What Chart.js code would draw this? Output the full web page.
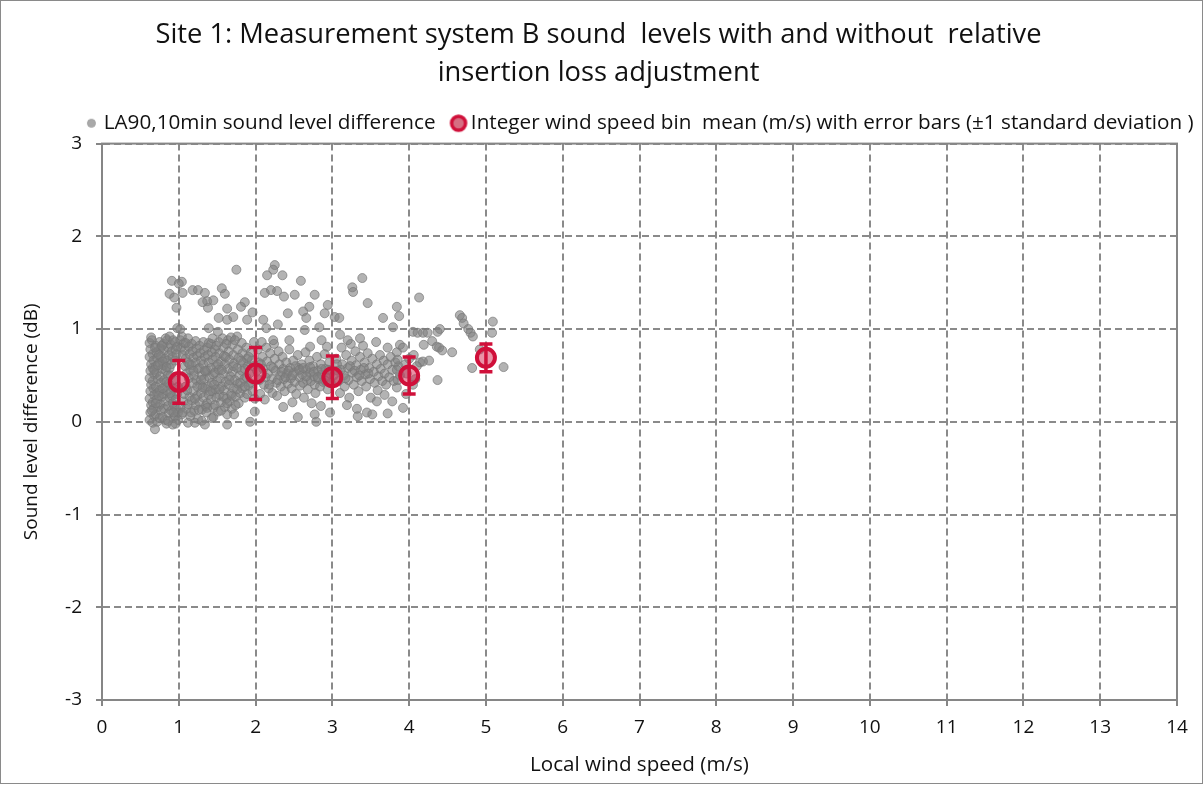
<!DOCTYPE html>
<html>
<head>
<meta charset="utf-8">
<script src="https://cdn.jsdelivr.net/npm/chart.js@4.4.1/dist/chart.umd.min.js"></script>
<style>
  html, body { margin: 0; padding: 0; background: #fff; }
  canvas { display: block; }
</style>
</head>
<body>
<canvas id="myChart" width="1204" height="785"></canvas>
<script>
// scatter points [wind speed m/s, level difference dB]
const pointsBelow1 = [
  [0.62,0.85],[0.63,0.78],[0.62,0.70],[0.64,0.62],[0.63,0.55],[0.62,0.47],[0.64,0.40],[0.63,0.33],[0.62,0.25],[0.64,0.18],
  [0.63,0.10],[0.62,0.02],[0.65,0.88],[0.66,0.73],[0.67,0.66],[0.66,0.58],[0.68,0.51],[0.66,0.44],[0.67,0.36],[0.68,0.29],
  [0.66,0.21],[0.67,0.14],[0.68,0.06],[0.66,-0.01],[0.70,0.82],[0.71,0.75],[0.72,0.69],[0.70,0.60],[0.71,0.53],[0.73,0.46],
  [0.70,0.38],[0.72,0.31],[0.71,0.24],[0.73,0.16],[0.70,0.08],[0.72,0.00],[0.69,-0.08],[0.75,0.86],[0.76,0.79],[0.77,0.71],
  [0.75,0.64],[0.78,0.57],[0.76,0.49],[0.77,0.42],[0.75,0.34],[0.78,0.27],[0.76,0.19],[0.77,0.12],[0.75,0.04],[0.80,0.84],
  [0.81,0.77],[0.82,0.68],[0.80,0.61],[0.83,0.55],[0.81,0.45],[0.82,0.37],[0.80,0.30],[0.83,0.22],[0.81,0.14],[0.82,0.02],
  [0.85,0.88],[0.86,0.80],[0.87,0.72],[0.85,0.66],[0.88,0.58],[0.86,0.50],[0.87,0.41],[0.85,0.33],[0.88,0.26],[0.86,0.17],
  [0.87,0.09],[0.84,-0.02],[0.90,0.83],[0.91,0.76],[0.92,0.70],[0.90,0.62],[0.93,0.36],[0.91,0.28],[0.92,0.20],[0.90,0.12],
  [0.93,0.04],[0.95,0.86],[0.96,0.78],[0.97,0.73],[0.95,0.66],[0.98,0.30],[0.96,0.24],[0.97,0.14],[0.95,0.06],[0.99,0.02],
  [0.88,1.38],[0.91,1.52],[0.94,1.34],[0.98,1.01],[0.97,1.23],[0.96,-0.02],[0.92,-0.03],
  [0.64,0.91],[0.69,0.80],[0.74,0.72],[0.79,0.65],[0.84,0.59],[0.89,0.50],[0.94,0.45],[0.99,0.38],[0.65,0.12],[0.70,0.20],
  [0.74,0.28],[0.79,0.36],[0.84,0.43],[0.89,0.31],[0.94,0.17],[0.99,0.10],[0.68,0.56],[0.73,0.61],[0.78,0.82],[0.83,0.90],
  [0.88,0.92],[0.93,0.88],[0.98,0.81],[0.79,0.05],[0.86,0.01],[0.93,0.10]
];
const points1to2 = [
  [1.02,0.88],[1.03,0.80],[1.05,0.72],[1.02,0.15],[1.04,0.08],[1.06,0.22],[1.07,0.85],[1.08,0.77],[1.09,0.68],[1.08,0.60],
  [1.10,0.52],[1.07,0.30],[1.09,0.38],[1.10,0.14],[1.12,0.90],[1.13,0.81],[1.14,0.73],[1.12,0.64],[1.15,0.56],[1.13,0.47],
  [1.14,0.27],[1.12,0.19],[1.15,0.06],[1.17,0.84],[1.18,0.76],[1.19,0.69],[1.17,0.61],[1.20,0.50],[1.18,0.42],[1.19,0.33],
  [1.17,0.23],[1.20,0.12],[1.22,0.87],[1.23,0.79],[1.24,0.71],[1.22,0.64],[1.25,0.57],[1.23,0.45],[1.24,0.28],[1.22,0.18],
  [1.25,0.03],[1.27,0.82],[1.28,0.74],[1.29,0.66],[1.27,0.58],[1.30,0.50],[1.28,0.40],[1.29,0.31],[1.27,0.21],[1.30,0.13],
  [1.32,0.86],[1.33,0.77],[1.34,0.70],[1.32,0.62],[1.35,0.54],[1.33,0.46],[1.34,0.36],[1.32,0.26],[1.35,0.17],[1.37,0.80],
  [1.38,0.72],[1.39,0.64],[1.37,0.55],[1.40,0.48],[1.38,0.38],[1.39,0.29],[1.37,0.20],[1.42,0.84],[1.43,0.75],[1.44,0.67],
  [1.42,0.58],[1.45,0.51],[1.43,0.42],[1.44,0.33],[1.42,0.24],[1.45,0.15],[1.47,0.78],[1.48,0.70],[1.49,0.60],[1.47,0.53],
  [1.50,0.44],[1.48,0.35],[1.49,0.26],[1.47,0.18],
  [1.52,0.86],[1.53,0.74],[1.55,0.65],[1.52,0.56],[1.54,0.47],[1.56,0.38],[1.53,0.29],[1.55,0.21],[1.58,0.80],[1.59,0.71],
  [1.60,0.62],[1.58,0.52],[1.61,0.43],[1.59,0.34],[1.62,0.25],[1.60,0.16],[1.64,0.88],[1.65,0.76],[1.66,0.67],[1.64,0.57],
  [1.67,0.49],[1.65,0.40],[1.68,0.30],[1.66,0.22],[1.70,0.83],[1.71,0.72],[1.72,0.63],[1.70,0.54],[1.73,0.45],[1.71,0.36],
  [1.74,0.27],[1.76,0.92],[1.77,0.78],[1.78,0.69],[1.76,0.58],[1.79,0.50],[1.77,0.41],[1.80,0.31],[1.78,0.20],[1.82,0.85],
  [1.83,0.74],[1.84,0.64],[1.82,0.55],[1.85,0.46],[1.83,0.36],[1.86,0.26],[1.88,0.80],[1.89,0.68],[1.90,0.60],[1.88,0.48],
  [1.91,0.39],[1.89,0.30],[1.94,0.75],[1.95,0.66],[1.93,0.42],[1.96,0.33],[1.98,0.86],[1.99,0.25],
  [1.04,1.51],[1.00,1.49],[1.05,1.39],[1.18,1.42],[1.25,1.42],[1.34,1.39],[1.37,1.30],[1.38,1.23],[1.31,1.29],[1.45,1.31],
  [1.56,1.44],[1.60,1.38],[1.75,1.64],[1.52,1.12],[1.63,1.10],[1.63,1.22],[1.71,1.13],[1.86,1.29],[1.81,1.24],[1.89,1.10],
  [1.39,1.01],[1.51,0.97],[1.02,1.00],[1.96,1.18],
  [1.05,0.10],[1.12,-0.01],[1.21,-0.01],[1.30,0.01],[1.37,0.15],[1.45,0.05],[1.51,0.11],[1.63,0.08],[1.69,0.14],[1.63,-0.03],
  [1.34,-0.03],[1.43,0.04],[1.99,0.11],[1.93,0.00],
  [1.04,0.92],[1.09,0.85],[1.14,0.62],[1.19,0.55],[1.24,0.38],[1.29,0.45],[1.34,0.55],[1.39,0.85],[1.44,0.90],[1.49,0.82],
  [1.11,0.34],[1.16,0.10],[1.21,0.25],[1.26,0.13],[1.31,0.37],[1.36,0.10],[1.41,0.33],[1.46,0.40],[1.51,0.62],[1.56,0.56],
  [1.61,0.70],[1.66,0.45],[1.71,0.60],[1.76,0.35],[1.81,0.66],[1.86,0.57],[1.91,0.70],[1.57,0.90],[1.62,0.84],[1.68,0.91],
  [1.73,0.88],[1.53,0.35],[1.58,0.27],[1.63,0.20],[1.69,0.28],[1.74,0.18],[1.80,0.42],[1.86,0.38],[1.92,0.52],[1.97,0.60],
  [1.55,0.12],[1.72,0.08]
];
const points2to3 = [
  [2.03,0.78],[2.04,0.64],[2.05,0.45],[2.06,0.30],[2.08,0.86],[2.09,0.70],[2.10,0.57],[2.11,0.40],[2.12,0.24],[2.14,0.80],
  [2.15,0.65],[2.16,0.52],[2.17,0.36],[2.19,0.74],[2.20,0.60],[2.21,0.46],[2.22,0.31],[2.24,0.84],[2.25,0.68],[2.26,0.55],
  [2.27,0.42],[2.28,0.28],[2.30,0.76],[2.31,0.62],[2.32,0.50],[2.33,0.38],[2.35,0.70],[2.36,0.57],[2.37,0.46],[2.38,0.33],
  [2.40,0.64],[2.41,0.52],[2.42,0.41],[2.44,0.78],[2.45,0.58],[2.46,0.47],[2.47,0.36],[2.49,0.66],[2.50,0.53],[2.51,0.43],
  [2.53,0.30],[2.55,0.72],[2.56,0.58],[2.57,0.48],[2.58,0.39],[2.60,0.62],[2.61,0.51],[2.62,0.42],[2.63,0.26],[2.65,0.75],
  [2.66,0.56],[2.67,0.45],[2.68,0.35],[2.70,0.66],[2.71,0.53],[2.72,0.44],[2.73,0.20],[2.75,0.60],[2.76,0.49],[2.77,0.40],
  [2.78,0.31],[2.80,0.70],[2.81,0.55],[2.82,0.46],[2.84,0.38],[2.85,0.62],[2.86,0.51],[2.88,0.43],[2.90,0.73],[2.91,0.57],
  [2.92,0.48],[2.94,0.35],[2.96,0.64],[2.97,0.52],[2.98,0.42],
  [2.25,1.69],[2.23,1.64],[2.15,1.58],[2.35,1.58],[2.59,1.52],[2.12,1.39],[2.28,1.41],[2.37,1.35],[2.51,1.37],[2.77,1.37],
  [2.42,1.17],[2.62,1.19],[2.70,1.24],[2.66,1.12],[2.90,1.17],[2.94,1.26],[2.14,1.01],[2.29,1.05],[2.64,0.99],[2.83,1.02],
  [2.44,0.88],[2.71,0.81],[2.23,0.88],[2.86,0.88],[2.93,0.81],[2.10,1.10],[2.20,1.42],
  [2.55,0.05],[2.77,0.08],[2.79,0.00],[2.97,0.10],[2.36,0.16],[2.48,0.21],[2.85,0.17],
  [2.02,0.55],[2.07,0.62],[2.13,0.48],[2.18,0.40],[2.23,0.58],[2.29,0.45],[2.34,0.54],[2.39,0.48],[2.43,0.55],[2.48,0.50],
  [2.52,0.60],[2.57,0.56],[2.62,0.58],[2.66,0.49],[2.71,0.59],[2.76,0.54],[2.81,0.48],[2.86,0.57],[2.91,0.44],[2.95,0.56]
];
const points3to4 = [
  [3.05,0.68],[3.07,0.55],[3.08,0.44],[3.10,0.31],[3.12,0.80],[3.13,0.62],[3.15,0.50],[3.16,0.38],[3.18,0.72],[3.20,0.58],
  [3.21,0.45],[3.22,0.26],[3.24,0.84],[3.25,0.66],[3.26,0.53],[3.28,0.40],[3.30,0.76],[3.31,0.61],[3.32,0.48],[3.34,0.33],
  [3.36,0.70],[3.37,0.56],[3.38,0.44],[3.40,0.82],[3.42,0.64],[3.43,0.51],[3.44,0.38],[3.46,0.74],[3.48,0.58],[3.49,0.46],
  [3.50,0.26],[3.52,0.68],[3.54,0.54],[3.55,0.42],[3.57,0.86],[3.58,0.62],[3.60,0.49],[3.62,0.72],[3.63,0.57],[3.65,0.44],
  [3.67,0.66],[3.68,0.52],[3.70,0.40],[3.72,0.62],[3.74,0.48],[3.76,0.70],[3.78,0.56],[3.80,0.44],[3.82,0.64],[3.86,0.60],
  [3.88,0.50],
  [3.03,1.13],[3.09,1.12],[3.26,1.45],[3.27,1.40],[3.39,1.55],[3.46,1.28],[3.66,1.12],[3.84,1.24],[3.79,1.02],[3.20,0.88],
  [3.36,0.90],[3.10,0.94],[3.72,0.80],[3.84,0.75],
  [3.19,0.18],[3.32,0.14],[3.33,0.06],[3.45,0.10],[3.52,0.08],[3.72,0.09],[3.58,0.22],[3.68,0.29],[3.59,0.34],[3.78,0.22],
  [3.84,0.37],[3.85,0.45],[3.84,0.56],
  [3.02,0.50],[3.06,0.62],[3.11,0.56],[3.17,0.47],[3.23,0.60],[3.29,0.55],[3.35,0.50],[3.41,0.58],[3.47,0.52]
];
const pointsAbove4 = [
  [4.13,1.34],[3.87,1.14],[4.05,0.97],[4.11,0.96],[4.18,0.96],[4.24,0.96],[4.40,1.00],[4.37,0.97],[4.19,0.83],[4.30,0.87],
  [4.36,0.81],[4.43,0.77],[4.56,0.75],[3.88,0.83],[3.92,0.80],[3.85,0.67],[4.14,0.64],[4.18,0.65],[4.37,0.45],[4.66,1.15],
  [4.69,1.12],[4.71,1.06],[4.77,1.00],[4.80,0.96],[4.83,0.92],[5.09,1.08],[5.08,0.96],[4.82,0.58],[5.23,0.59],[4.39,0.80],
  [4.92,0.78],[3.95,0.62],[3.97,0.52],[4.00,0.68],[4.06,0.72],[4.08,0.46],[4.10,0.60],[4.26,0.66],[4.05,0.40],[3.96,0.30],
  [3.92,0.15]
];

// integer wind speed bins
const binSpeeds = [1, 2, 3, 4, 5];
const binMeans = [0.43, 0.52, 0.48, 0.50, 0.69];
const binStdDev = [0.23, 0.28, 0.23, 0.20, 0.15];

const titleLines = [
  "Site 1: Measurement system B sound  levels with and without  relative",
  "insertion loss adjustment"
];
const legendLabels = [
  "LA90,10min sound level difference",
  "Integer wind speed bin  mean (m/s) with error bars (\u00b11 standard deviation )"
];

const FONT = "'Open Sans', Lato, sans-serif";
const crimson = "#d0103a";
const grayFill = "rgba(128,128,128,0.6)";
const grayEdge = "rgba(120,120,120,0.7)";

const scatter = [...pointsBelow1, ...points1to2, ...points2to3, ...points3to4, ...pointsAbove4]
  .map((p) => ({ x: p[0], y: p[1] }));
const means = binSpeeds.map((s, i) => ({ x: s, y: binMeans[i] }));

function makeIcon(r, fill, stroke, lw) {
  let size = Math.ceil(2 * r + lw + 2);
  let c = document.createElement("canvas");
  c.width = size;
  c.height = size;
  let g = c.getContext("2d");
  g.beginPath();
  g.arc(size / 2, size / 2, r, 0, Math.PI * 2);
  g.fillStyle = fill;
  g.fill();
  if (lw) {
    g.lineWidth = lw;
    g.strokeStyle = stroke;
    g.stroke();
  }
  return c;
}

const errorBars = {
  id: "errorBars",
  afterDatasetsDraw(chart) {
    const { ctx, scales: { x, y } } = chart;
    ctx.save();
    ctx.strokeStyle = crimson;
    ctx.lineWidth = 3.5;
    binSpeeds.forEach((s, i) => {
      let px = x.getPixelForValue(s);
      let top = y.getPixelForValue(binMeans[i] + binStdDev[i]);
      let bot = y.getPixelForValue(binMeans[i] - binStdDev[i]);
      ctx.beginPath();
      ctx.moveTo(px, top);
      ctx.lineTo(px, bot);
      ctx.moveTo(px - 6.5, top);
      ctx.lineTo(px + 6.5, top);
      ctx.moveTo(px - 6.5, bot);
      ctx.lineTo(px + 6.5, bot);
      ctx.stroke();
    });
    ctx.restore();
  },
};

// legend sits right of centre in the original, nudge it over
const legendShift = {
  id: "legendShift",
  afterLayout(chart) {
    chart.legend.left += 43;
    chart.legend.right += 43;
  },
};

const frames = {
  id: "frames",
  beforeDraw(chart) {
    const ctx = chart.ctx;
    ctx.save();
    ctx.fillStyle = "#fff";
    ctx.fillRect(0, 0, chart.width, chart.height);
    ctx.restore();
  },
  afterDraw(chart) {
    const { ctx, chartArea: a } = chart;
    ctx.save();
    ctx.strokeStyle = "#868686";
    ctx.lineWidth = 2;
    ctx.strokeRect(a.left, a.top, a.right - a.left, a.bottom - a.top);
    ctx.lineWidth = 1;
    ctx.strokeStyle = "#8a8a8a";
    ctx.strokeRect(0.5, 0.5, chart.width - 2, chart.height - 2);
    ctx.restore();
  },
};

const gridOpts = {
  color: "#8a8a8a",
  lineWidth: 2,
  tickLength: 6,
  tickColor: "#868686",
  tickWidth: 2,
  tickBorderDash: [],
};

let ctx = document.getElementById("myChart").getContext("2d");
let chart = new Chart(ctx, {
  type: "scatter",
  data: {
    datasets: [
      {
        label: legendLabels[0],
        data: scatter,
        backgroundColor: grayFill,
        borderColor: grayEdge,
        borderWidth: 1,
        pointRadius: 4.5,
        order: 2,
      },
      {
        label: legendLabels[1],
        data: means,
        backgroundColor: "rgba(214,40,80,0.5)",
        borderColor: crimson,
        borderWidth: 4,
        pointRadius: 9,
        order: 1,
      },
    ],
  },
  options: {
    responsive: false,
    animation: false,
    layout: { padding: { top: 0, left: 20, right: 27, bottom: 8 } },
    plugins: {
      tooltip: { enabled: false },
      title: {
        display: true,
        text: titleLines,
        color: "#111",
        font: { family: FONT, size: 27.3, weight: "normal", lineHeight: 1.39 },
        padding: { top: 16, bottom: 0 },
      },
      legend: {
        display: true,
        labels: {
          usePointStyle: true,
          boxWidth: 4,
          boxHeight: 4,
          padding: 21,
          color: "#111",
          font: { family: FONT, size: 20.7 },
          generateLabels: () => [
            {
              text: legendLabels[0],
              pointStyle: makeIcon(4, "#a9a9a9", "#a0a0a0", 1),
              fillStyle: "transparent",
              strokeStyle: "transparent",
              lineWidth: 0,
              fontColor: "#111",
              datasetIndex: 0,
              hidden: false,
            },
            {
              text: legendLabels[1],
              pointStyle: makeIcon(7, "rgba(214,110,130,1)", crimson, 3.5),
              fillStyle: "transparent",
              strokeStyle: "transparent",
              lineWidth: 0,
              fontColor: "#111",
              datasetIndex: 1,
              hidden: false,
            },
          ],
        },
      },
    },
    scales: {
      x: {
        type: "linear",
        min: 0,
        max: 14,
        afterFit: (s) => { s.height = 77; },
        ticks: { stepSize: 1, color: "#111", padding: 10, font: { family: FONT, size: 19 } },
        grid: { ...gridOpts },
        border: { display: true, color: "#868686", width: 2, dash: [7, 4] },
        title: {
          display: true,
          text: "Local wind speed (m/s)",
          color: "#111",
          font: { family: FONT, size: 20.6 },
          padding: { top: 4, bottom: 0 },
        },
      },
      y: {
        type: "linear",
        min: -3,
        max: 3,
        afterFit: (s) => { s.width = 82; },
        ticks: { stepSize: 1, color: "#111", padding: 14, font: { family: FONT, size: 19 } },
        grid: { ...gridOpts },
        border: { display: true, color: "#868686", width: 2, dash: [7, 4] },
        title: {
          display: true,
          text: "Sound level difference (dB)",
          color: "#111",
          font: { family: FONT, size: 19 },
          padding: { top: 0, bottom: 2 },
        },
      },
    },
  },
  plugins: [errorBars, legendShift, frames],
});
</script>
</body>
</html>
